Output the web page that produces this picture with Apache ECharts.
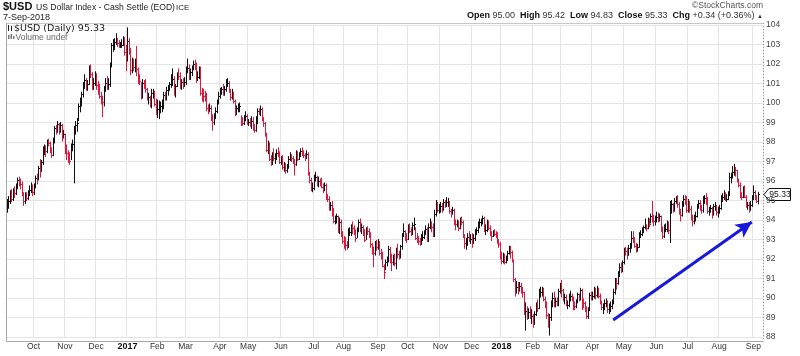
<!DOCTYPE html>
<html><head><meta charset="utf-8">
<script src="https://cdn.jsdelivr.net/npm/echarts@6/dist/echarts.min.js"></script>
<style>html,body{margin:0;padding:0;background:#fff}#c{width:800px;height:356px}</style>
</head><body><div id="c"></div>
<script>
// ---- daily closes (Sep 7 2016 .. Sep 7 2018), one line per month ----
const closes = [
94.75,95.00,95.35,95.10,95.45,95.40,95.70,96.05,95.95,95.85,95.35,94.95,95.25,95.15,95.35,95.55,95.65,95.45,
95.75,96.15,96.10,96.65,96.60,96.95,97.60,97.65,97.55,98.05,97.95,97.55,97.35,98.05,98.70,98.60,98.90,98.60,98.85,98.35,98.40,
97.60,97.45,97.20,97.05,97.75,97.90,98.60,98.85,99.00,99.85,99.95,100.45,100.90,101.20,100.85,101.00,101.65,101.50,100.90,101.05,101.45,
100.90,100.75,100.35,100.25,100.05,100.75,101.05,100.95,100.95,101.95,102.95,102.95,103.15,103.25,103.10,102.95,102.95,103.00,103.25,102.60,102.20,
103.20,102.70,101.70,102.20,101.85,101.95,101.75,101.20,101.15,100.30,101.05,101.00,100.70,100.25,100.30,99.85,100.50,100.55,99.95,99.55,
99.70,99.80,99.85,99.95,100.40,100.25,100.65,100.75,100.95,101.20,101.25,100.50,100.85,101.45,101.40,100.95,101.10,101.00,101.10,
101.75,101.80,101.35,101.60,101.80,102.00,101.95,101.30,101.35,101.75,100.50,100.40,100.35,100.30,99.75,99.70,99.75,99.30,99.05,99.35,99.60,100.10,100.35,
100.55,100.70,100.55,100.70,101.05,101.05,100.60,100.30,100.50,100.10,99.50,99.75,99.80,99.85,99.10,99.00,99.20,99.35,99.00,
99.05,99.00,99.10,98.75,98.60,98.95,99.60,99.55,99.70,99.25,98.95,98.40,97.60,97.90,97.15,96.95,97.30,97.20,97.25,97.45,97.40,97.00,
97.15,96.70,96.85,96.55,96.70,97.15,97.25,97.20,96.95,96.85,97.40,97.15,97.35,97.55,97.45,97.35,97.20,97.40,96.40,96.05,95.65,95.65,
96.10,96.20,95.80,96.00,95.95,95.70,95.60,95.80,95.15,95.10,94.60,94.75,94.50,93.95,94.00,94.20,93.45,93.90,93.30,92.90,
92.80,92.70,92.60,93.40,93.40,93.65,93.60,93.40,93.10,93.50,93.90,93.50,93.65,93.45,93.00,93.50,93.45,93.25,92.75,92.40,92.30,92.75,92.60,
92.85,92.30,92.20,91.65,91.35,91.85,91.95,92.50,91.90,91.85,92.10,91.80,92.30,92.25,92.15,92.65,93.20,93.45,93.10,93.05,
93.60,93.45,93.30,93.75,93.80,93.10,92.95,92.90,92.85,93.00,93.15,93.35,93.55,92.95,93.65,93.75,93.65,93.20,94.30,94.85,94.50,94.60,
94.70,94.60,94.90,94.80,94.90,94.90,94.45,94.40,94.50,93.85,93.80,93.85,93.60,94.00,93.90,93.20,92.80,92.85,93.15,93.00,93.05,
92.90,93.10,93.35,93.50,93.80,93.90,93.90,94.10,93.50,93.50,93.90,93.60,93.30,93.20,93.40,93.30,93.25,92.90,92.75,92.15,
91.90,92.20,91.85,91.95,92.30,92.50,92.35,91.95,90.95,90.45,90.55,90.40,90.60,90.35,90.30,89.20,89.35,89.10,89.30,89.10,89.10,
88.70,89.20,89.60,89.50,90.25,90.30,90.40,89.95,89.60,89.15,88.60,89.05,89.70,90.00,89.70,89.85,89.70,90.35,90.60,
90.40,89.95,90.05,89.65,89.65,90.10,90.10,89.90,89.65,89.60,89.80,90.20,89.95,90.40,89.80,89.75,89.45,89.10,89.40,90.15,90.10,
90.10,90.40,90.15,90.45,90.10,89.80,89.55,89.55,89.75,89.80,89.45,89.45,89.60,89.75,90.30,90.90,90.75,91.20,91.60,91.55,91.85,
92.45,92.40,92.20,92.55,92.65,93.10,93.05,92.65,92.55,92.60,93.25,93.30,93.50,93.65,93.65,93.60,93.90,93.80,94.20,94.05,93.95,94.00,
94.15,94.00,94.20,93.50,93.20,93.55,93.55,93.80,93.50,94.80,94.80,94.55,95.00,95.10,94.80,94.50,94.25,94.80,95.10,95.05,94.50,
94.85,94.55,94.10,93.95,94.10,94.20,94.70,94.85,94.65,94.50,95.05,95.15,95.10,94.45,94.50,94.60,94.30,94.70,94.70,94.40,94.50,
94.60,95.15,95.20,95.35,95.10,95.10,95.35,96.20,96.30,96.45,96.60,96.55,96.05,95.80,95.25,95.20,95.60,95.20,94.70,94.75,94.60,94.75,95.10,
95.45,95.15,94.99,95.33
];
const highs = [
95.05,95.20,95.50,95.55,95.60,95.70,95.85,96.15,96.20,96.10,95.95,95.40,95.40,95.40,95.50,95.75,95.90,95.80,
95.85,96.25,96.35,96.75,97.10,97.05,97.75,97.85,97.80,98.10,98.15,98.00,97.70,98.20,98.80,98.85,99.05,98.95,99.00,98.90,98.60,
98.40,97.85,97.55,97.45,97.90,98.10,98.80,99.05,99.20,99.95,100.25,100.55,101.05,101.45,101.25,101.15,101.90,101.95,101.55,101.25,101.60,
101.50,101.10,100.95,100.55,100.35,100.85,101.25,101.35,101.25,102.05,103.05,103.25,103.30,103.55,103.30,103.20,103.10,103.25,103.40,103.35,102.95,
103.85,103.30,102.80,102.30,102.25,102.25,102.90,101.80,101.45,101.05,101.20,101.15,101.20,100.75,100.50,100.35,100.70,100.70,100.60,100.20,
100.15,100.10,100.05,100.15,100.55,100.55,100.80,100.90,101.05,101.45,101.75,101.35,100.95,101.55,101.75,101.55,101.20,101.25,101.30,
101.85,102.25,101.95,101.75,101.90,102.15,102.20,102.05,101.60,101.85,101.85,100.75,100.70,100.60,100.50,99.90,99.95,99.85,99.40,99.45,99.75,100.15,100.55,
100.75,100.80,100.95,100.85,101.20,101.25,101.10,100.70,100.70,100.55,100.15,99.85,99.95,100.00,99.35,99.25,99.35,99.55,99.40,
99.15,99.20,99.30,99.25,98.90,99.30,99.70,99.70,99.85,99.75,99.25,99.00,98.45,98.05,97.95,97.30,97.45,97.65,97.40,97.60,97.70,97.50,
97.25,97.30,96.95,96.90,96.85,97.25,97.45,97.35,97.25,97.10,97.55,97.50,97.45,97.65,97.70,97.55,97.40,97.55,97.45,96.45,96.15,95.90,
96.30,96.45,96.25,96.20,96.10,96.15,95.85,95.90,95.85,95.30,95.20,94.90,94.95,94.60,94.20,94.30,94.20,94.10,94.00,93.40,
93.15,93.10,92.90,93.55,93.60,93.75,93.90,93.70,93.50,93.60,94.00,94.05,93.80,93.70,93.50,93.60,93.65,93.55,93.35,92.80,92.60,92.90,92.95,
93.00,92.90,92.50,92.35,91.70,91.95,92.10,92.65,92.60,92.25,92.20,92.25,92.55,92.75,92.40,92.70,93.30,93.80,93.45,93.30,
93.75,93.80,93.60,93.85,94.10,93.60,93.30,93.15,93.05,93.25,93.40,93.45,93.70,93.60,93.80,94.05,93.90,93.80,94.50,95.00,94.90,94.80,
94.90,94.85,95.05,95.00,95.15,95.10,94.95,94.55,94.65,94.55,94.00,94.00,93.95,94.10,94.15,93.95,93.25,93.05,93.30,93.40,93.25,
93.30,93.25,93.50,93.60,93.90,94.05,94.05,94.20,94.15,93.75,94.00,93.95,93.70,93.40,93.45,93.50,93.40,93.35,93.00,92.85,
92.35,92.30,92.25,92.15,92.40,92.65,92.65,92.40,91.95,91.00,90.85,90.80,90.80,90.75,90.55,90.30,89.75,89.55,89.45,89.55,89.40,
89.15,89.30,89.75,89.90,90.45,90.55,90.55,90.50,90.05,89.80,89.20,89.15,89.85,90.25,90.30,90.00,90.00,90.45,90.75,
90.90,90.45,90.20,90.15,89.85,90.20,90.35,90.20,90.05,89.80,89.90,90.25,90.20,90.50,90.45,89.95,89.80,89.55,89.50,90.25,90.30,
90.30,90.55,90.50,90.60,90.50,90.20,89.85,89.70,89.90,89.95,89.85,89.70,89.80,89.90,90.45,91.00,91.00,91.35,91.75,91.80,91.90,
92.55,92.60,92.55,92.70,92.80,93.40,93.40,93.10,92.80,92.75,93.35,93.45,93.60,93.70,94.05,93.75,94.10,94.05,94.30,94.95,94.25,94.20,
94.40,94.35,94.30,94.20,93.65,93.75,93.80,93.95,93.90,94.95,95.00,94.85,95.10,95.20,95.25,94.90,94.55,94.95,95.25,95.25,95.20,
95.05,94.95,94.70,94.25,94.25,94.40,94.80,95.00,95.00,94.75,95.20,95.25,95.35,95.15,94.65,94.75,94.65,94.80,94.90,94.75,94.65,
94.75,95.25,95.35,95.50,95.40,95.30,95.45,96.40,96.40,96.75,96.85,96.70,96.55,96.10,95.90,95.40,95.70,95.75,95.25,94.90,94.90,94.95,95.25,
95.75,95.50,95.25,95.42
];
const lows = [
94.40,94.60,94.85,94.95,95.00,95.15,95.30,95.60,95.75,95.60,95.25,94.75,94.85,95.00,95.05,95.25,95.40,95.25,
95.30,95.65,95.85,96.05,96.20,96.50,96.85,97.35,97.25,97.45,97.80,97.45,97.20,97.30,97.95,98.40,98.50,98.40,98.50,98.05,98.20,
97.40,97.10,96.95,96.85,97.10,97.55,95.90,98.40,98.55,99.10,99.55,99.85,100.30,100.75,100.65,100.65,100.95,101.30,100.70,100.70,100.90,
100.70,100.45,100.25,99.95,99.30,99.85,100.60,100.70,100.70,100.85,101.85,102.65,102.75,103.00,102.90,102.85,102.85,102.85,102.95,102.45,101.65,
102.15,102.50,101.45,101.55,101.65,101.60,101.40,101.00,100.95,100.20,100.25,100.75,100.55,100.15,99.95,99.80,99.75,100.25,99.85,99.40,
99.25,99.20,99.50,99.55,99.70,100.15,100.15,100.40,100.65,100.80,100.90,100.40,100.30,100.85,101.20,100.75,100.70,100.75,100.85,
100.95,101.55,101.20,101.20,101.40,101.70,101.70,101.05,101.15,101.25,100.40,100.10,100.05,100.10,99.60,99.45,99.55,99.10,98.60,98.90,99.20,99.50,99.95,
100.25,100.45,100.40,100.40,100.60,100.85,100.55,100.15,100.20,100.00,99.35,99.40,99.55,99.55,98.85,98.85,98.90,99.10,98.90,
98.85,98.80,98.70,98.60,98.50,98.55,98.95,99.40,99.35,99.10,98.80,98.30,97.50,97.40,97.05,96.80,96.85,97.05,96.90,97.10,97.25,96.90,
96.85,96.60,96.50,96.40,96.45,96.65,97.05,97.00,96.90,96.30,96.80,97.05,97.10,97.25,97.30,97.20,97.05,97.15,96.30,95.90,95.50,95.45,
95.55,96.00,95.75,95.70,95.75,95.65,95.40,95.50,95.05,94.95,94.50,94.50,94.20,93.85,93.80,93.85,93.35,93.30,93.15,92.80,
92.55,92.45,92.50,92.60,93.20,93.20,93.30,93.25,92.90,93.10,93.40,93.40,93.30,93.20,92.90,93.00,93.25,93.10,92.60,92.25,91.60,92.20,92.45,
92.50,92.20,92.00,91.60,91.00,91.45,91.65,91.85,91.80,91.40,91.70,91.65,91.50,92.05,92.00,92.05,92.50,93.15,92.95,92.85,
93.00,93.35,93.20,93.25,93.50,93.00,92.85,92.75,92.70,92.75,92.95,93.05,93.25,92.90,92.90,93.55,93.40,93.15,93.15,94.20,94.40,94.35,
94.40,94.40,94.50,94.65,94.70,94.70,94.35,94.15,94.30,93.75,93.50,93.65,93.45,93.55,93.75,93.10,92.55,92.50,92.70,92.90,92.80,
92.60,92.80,92.95,93.25,93.35,93.60,93.70,93.80,93.40,93.25,93.40,93.50,93.20,92.95,93.15,93.20,93.10,92.80,92.60,92.00,
91.75,91.80,91.75,91.80,91.95,92.25,92.05,91.85,90.85,90.10,90.25,90.20,90.35,90.25,90.05,89.15,88.35,88.90,88.95,88.95,88.70,
88.50,88.65,89.10,89.30,89.45,90.05,90.10,89.85,89.50,88.95,88.50,88.10,88.85,89.55,89.55,89.55,89.60,89.60,90.25,
90.05,89.85,89.70,89.60,89.45,89.55,89.85,89.85,89.40,89.40,89.50,89.75,89.85,89.90,89.40,89.50,89.30,88.95,88.95,89.35,89.90,
89.90,90.00,89.95,90.05,90.00,89.70,89.40,89.20,89.40,89.55,89.25,89.20,89.30,89.45,89.70,90.20,90.45,90.70,91.10,91.30,91.35,
91.75,92.20,92.00,92.20,92.35,92.55,92.85,92.60,92.35,92.40,92.60,93.10,93.20,93.35,93.55,93.45,93.55,93.65,93.85,93.90,93.70,93.75,
93.90,93.90,93.95,93.40,93.05,93.10,93.40,93.40,93.30,92.85,94.35,94.40,94.45,94.85,94.65,94.30,93.95,94.20,94.70,94.80,94.40,
94.40,94.40,94.00,93.70,93.80,93.95,94.15,94.60,94.50,94.35,94.40,94.85,94.80,94.35,94.25,94.40,94.10,94.25,94.50,94.25,94.15,
94.35,94.55,94.95,95.05,95.00,94.95,95.05,95.25,95.90,96.15,96.30,96.25,95.95,95.70,95.15,95.05,95.15,95.15,94.65,94.55,94.40,94.50,94.70,
95.05,95.05,94.90,94.83
];
const holidays = ['2016-11-24','2016-12-26','2017-01-02','2017-01-16','2017-02-20','2017-04-14','2017-05-29','2017-07-04','2017-09-04','2017-11-23','2017-12-25','2018-01-01','2018-01-15','2018-02-19','2018-03-30','2018-05-28','2018-07-04','2018-09-03'];
const monthNames = ['Jan','Feb','Mar','Apr','May','Jun','Jul','Aug','Sep','Oct','Nov','Dec'];
const yTickMin = 88, yTickMax = 104, yTickStep = 1;
const headerValues = {open:'95.00', high:'95.42', low:'94.83', close:'95.33', chg:'+0.34 (+0.36%)'};
const arrowFrom = [406.9, 88.87];
const arrowTo = [500.2, 93.9];

// trading calendar (categories)
function ymd(d){return d.toISOString().slice(0,10);}
const dates = [];
for (let t = Date.UTC(2016,8,7); t <= Date.UTC(2018,8,7); t += 86400000) {
  const d = new Date(t); const wd = d.getUTCDay();
  if (wd === 0 || wd === 6) continue;
  const s = ymd(d);
  if (holidays.indexOf(s) >= 0) continue;
  dates.push(s);
}
if (dates.length !== closes.length || highs.length !== closes.length || lows.length !== closes.length)
  throw new Error('len mismatch dates=' + dates.length + ' c=' + closes.length + ' h=' + highs.length + ' l=' + lows.length);
['2018-09-10','2018-09-11','2018-09-12'].forEach(s => dates.push(s));
const monthStart = dates.map((s,i) => i > 0 && s.slice(5,7) !== dates[i-1].slice(5,7));

const barData = closes.map((c,i) => [i, highs[i], lows[i], c, (i === 0 || c >= closes[i-1]) ? 1 : 0]);

const chart = echarts.init(document.getElementById('c'));
const F = 'Liberation Sans, Arial, sans-serif';

function baseGraphics(){
  return [
    {type:'text', x:3, y:7, style:{text:'$USD', font:'bold 11px ' + F, fill:'#111', textVerticalAlign:'middle'}},
    {type:'text', x:36, y:7.5, style:{text:'US Dollar Index - Cash Settle (EOD)', font:'8.6px ' + F, fill:'#222', textVerticalAlign:'middle'}},
    {type:'text', x:176, y:8, style:{text:'ICE', font:'8px ' + F, fill:'#222', textVerticalAlign:'middle'}},
    {type:'text', x:3, y:17.5, style:{text:'7-Sep-2018', font:'9px ' + F, fill:'#222', textVerticalAlign:'middle'}},
    {type:'text', x:763, y:6, style:{text:'\u00a9StockCharts.com', font:'8.5px ' + F, fill:'#555', textAlign:'right', textVerticalAlign:'middle'}},
    {type:'text', x:763, y:16, style:{
      text:'{b|Open} {v|' + headerValues.open + '}  {b|High} {v|' + headerValues.high + '}  {b|Low} {v|' + headerValues.low + '}  {b|Close} {v|' + headerValues.close + '}  {b|Chg} {v|' + headerValues.chg + '} {t|\u25b2}',
      textAlign:'right', textVerticalAlign:'middle', font:'9px ' + F,
      rich:{b:{font:'bold 9px ' + F, fill:'#111'}, v:{font:'9px ' + F, fill:'#333'}, t:{font:'6px ' + F, fill:'#333'}}}},
    // plot frame
    {type:'line', shape:{x1:6.5, y1:23.5, x2:763, y2:23.5}, style:{stroke:'#c8c8c8', lineWidth:1}},
    {type:'line', shape:{x1:6.5, y1:23, x2:6.5, y2:341.5}, style:{stroke:'#a8a8a8', lineWidth:1}},
    {type:'line', shape:{x1:6, y1:341.5, x2:763.5, y2:341.5}, style:{stroke:'#a8a8a8', lineWidth:1}},
    {type:'line', shape:{x1:763.5, y1:23, x2:763.5, y2:341.5}, style:{stroke:'#999', lineWidth:1, lineDash:[1,2]}},
    // legend icons
    {type:'rect', shape:{x:8, y:25, width:1, height:6}, style:{fill:'#222'}},
    {type:'rect', shape:{x:11, y:26, width:1, height:5}, style:{fill:'#222'}},
    {type:'text', x:14, y:28.5, style:{text:'$USD (Daily) 95.33', font:'9.5px DejaVu Sans, sans-serif', fill:'#222', textVerticalAlign:'middle'}},
    {type:'rect', shape:{x:8, y:35, width:1.5, height:4}, style:{fill:'#777'}},
    {type:'rect', shape:{x:10.5, y:34, width:1.5, height:5}, style:{fill:'#777'}},
    {type:'rect', shape:{x:13, y:36, width:1.5, height:3}, style:{fill:'#777'}},
    {type:'text', x:15.5, y:37.5, style:{text:'Volume undef', font:'8.5px ' + F, fill:'#666', textVerticalAlign:'middle'}}
  ];
}

const option = {
  animation:false,
  backgroundColor:'#fff',
  grid:{left:6, right:37, top:25, bottom:19, containLabel:false},
  xAxis:{
    type:'category', data:dates, boundaryGap:true,
    axisLine:{show:false}, axisTick:{show:false},
    axisLabel:{
      interval:(i) => monthStart[i], margin:5, color:'#333',
      formatter:(v) => { const m = +v.slice(5,7) - 1; return m === 0 ? '{y|' + v.slice(0,4) + '}' : '{m|' + monthNames[m] + '}'; },
      rich:{m:{fontSize:8.5, fontFamily:F, color:'#333'}, y:{fontSize:9, fontWeight:'bold', fontFamily:F, color:'#111'}}
    },
    splitLine:{show:true, interval:(i) => monthStart[i], lineStyle:{color:'#e4e4e4', width:1}}
  },
  yAxis:{
    type:'value', position:'right', min:yTickMin, max:yTickMax, interval:yTickStep,
    axisLine:{show:false}, axisTick:{show:false},
    axisLabel:{margin:3, color:'#444', fontSize:8.5, fontFamily:F},
    splitLine:{lineStyle:{color:'#e4e4e4', width:1}}
  },
  series:[
    {
      type:'custom', name:'USD', clip:false,
      data:barData, encode:{x:0, y:[1,2,3]},
      renderItem:function(params, api){
        const i = api.value(0);
        const h = api.coord([i, api.value(1)]);
        const l = api.coord([i, api.value(2)]);
        const c = api.coord([i, api.value(3)]);
        const col = api.value(4) ? '#111111' : '#e3173e';
        const x = Math.round(h[0]) + 0.5;
        const cy = Math.round(c[1]) + 0.5;
        return {type:'group', children:[
          {type:'line', shape:{x1:x, y1:h[1] - 0.5, x2:x, y2:l[1] + 0.5}, style:{stroke:col, lineWidth:1}},
          {type:'line', shape:{x1:x, y1:cy, x2:x + 1.5, y2:cy}, style:{stroke:col, lineWidth:1}}
        ]};
      }
    },
    {
      type:'line', name:'trend', data:[arrowFrom, arrowTo], symbol:'none', silent:true,
      lineStyle:{opacity:0},
      markLine:{
        silent:true, symbol:['none','arrow'], symbolSize:[12,16],
        label:{show:false}, emphasis:{disabled:true},
        lineStyle:{color:'#1818dc', width:3, type:'solid'},
        data:[[{coord:arrowFrom}, {coord:arrowTo}]]
      }
    }
  ],
  graphic:baseGraphics()
};
chart.setOption(option);

// last price tag on the right axis
const p = chart.convertToPixel({gridIndex:0}, [closes.length - 1, closes[closes.length - 1]]);
const ty = Math.round(p[1]) + 0.5;
const g = baseGraphics();
g.push({type:'polygon', shape:{points:[[764,ty],[769,ty-6],[790.5,ty-6],[790.5,ty+6],[769,ty+6]]}, style:{fill:'#fff', stroke:'#111', lineWidth:1}});
g.push({type:'text', x:780, y:ty, style:{text:closes[closes.length - 1].toFixed(2), font:'8.5px ' + F, fill:'#111', textAlign:'center', textVerticalAlign:'middle'}});
chart.setOption({graphic:g}, {replaceMerge:['graphic']});
</script>
</body></html>
